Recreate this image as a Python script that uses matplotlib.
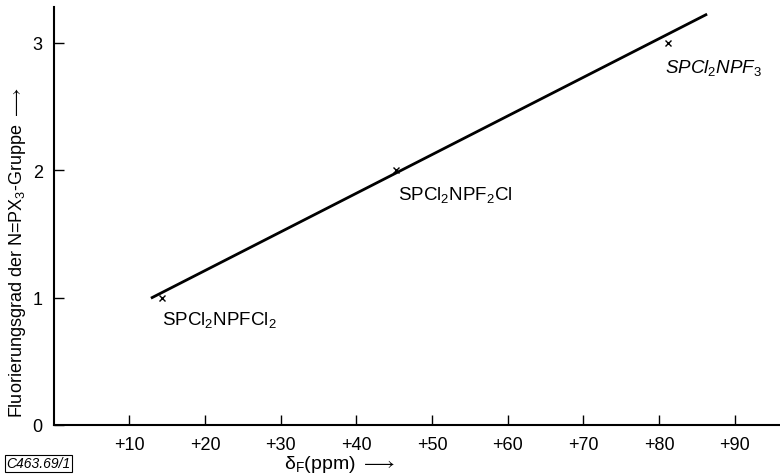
import matplotlib.pyplot as plt
from matplotlib import font_manager

# data
line_x = [13.0, 86.2]
line_y = [1.0, 3.22]
point_x = [14.3, 45.2, 81.2]
point_y = [1.0, 2.0, 3.0]
point_labels = [r"SPCl$_2$NPFCl$_2$", r"SPCl$_2$NPF$_2$Cl", r"SPCl$_2$NPF$_3$"]
xticks = [10, 20, 30, 40, 50, 60, 70, 80, 90]
xtick_labels = ["+10", "+20", "+30", "+40", "+50", "+60", "+70", "+80", "+90"]
yticks = [0, 1, 2, 3]

names = {f.name for f in font_manager.fontManager.ttflist}
FONT = "Liberation Sans Narrow" if "Liberation Sans Narrow" in names else "Liberation Sans"
plt.rcParams["font.family"] = [FONT, "DejaVu Sans"]
plt.rcParams["mathtext.fontset"] = "custom"
plt.rcParams["mathtext.rm"] = FONT
plt.rcParams["mathtext.it"] = FONT + ":italic"

fig = plt.figure(figsize=(7.8, 4.77), dpi=100)
ax = fig.add_axes([0.069, 0.107, 0.931, 0.876])

ax.plot(line_x, line_y, color="black", lw=2)
ax.plot(point_x, point_y, "x", color="black", ms=4, mew=1)

offsets = [(0.0, -0.09), (0.3, -0.11), (-0.4, -0.11)]
for x, y, lab, (dx, dy), st in zip(point_x, point_y, point_labels, offsets,
                                   ["normal", "normal", "italic"]):
    ax.text(x + dx, y + dy, lab, fontsize=13.5, ha="left", va="top", style=st)

ax.set_xlim(0, 96)
ax.set_ylim(0, 3.28)
ax.set_xticks(xticks)
ax.set_xticklabels(xtick_labels)
ax.set_yticks(yticks)
ax.tick_params(direction="in", length=7, width=1, labelsize=13, pad=8)

for s in ["top", "right"]:
    ax.spines[s].set_visible(False)
for s in ["left", "bottom"]:
    ax.spines[s].set_linewidth(1.5)

fig.text(0.023, 0.47, r"Fluorierungsgrad der N=PX$_3$-Gruppe $\longrightarrow$",
         rotation=90, ha="center", va="center", fontsize=13)
fig.text(0.435, 0.027, r"$\mathrm{\delta_F}$(ppm) $\longrightarrow$", ha="center",
         va="center", fontsize=14)
fig.text(0.008, 0.027, "C463.69/1", fontsize=10, style="italic", va="center",
         bbox=dict(facecolor="none", edgecolor="black", pad=1, lw=0.8))

fig.savefig("out.png", dpi=100)
